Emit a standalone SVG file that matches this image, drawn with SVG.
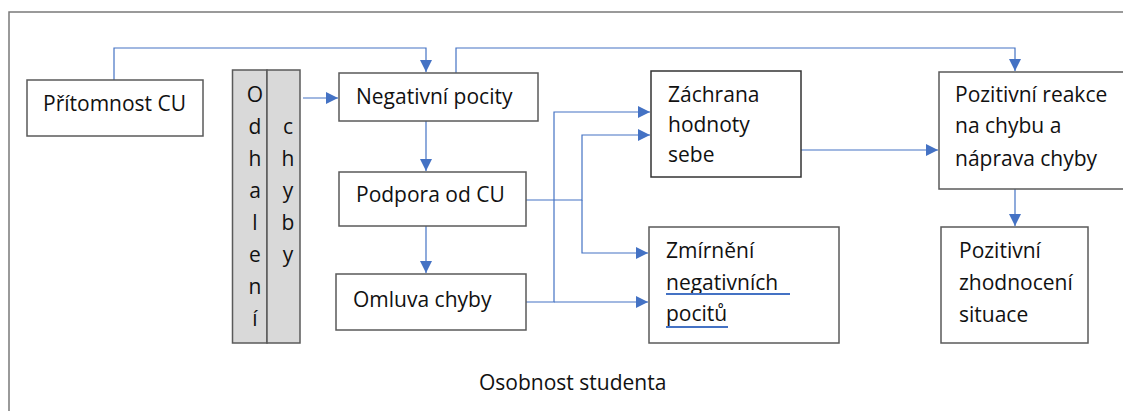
<svg xmlns="http://www.w3.org/2000/svg" width="1123" height="411" viewBox="0 0 1123 411">
<defs>
<style>
.t{font-family:"Open Sans","Liberation Sans",sans-serif;font-size:21px;fill:#111}
.box{fill:#fff;stroke:#5a5a5a;stroke-width:1.5}
.gray{fill:#d9d9d9;stroke:#5a5a5a;stroke-width:1.5}
.c{fill:none;stroke:#4472c4;stroke-width:1.2}
.m{text-anchor:middle}
.ul{stroke:#4472c4;stroke-width:2;fill:none}
</style>
<marker id="ah" markerUnits="userSpaceOnUse" markerWidth="14" markerHeight="12" refX="12" refY="6" orient="auto">
<path d="M0,0 L12,6 L0,12 Z" fill="#4472c4"/>
</marker>
</defs>
<rect x="0" y="0" width="1123" height="411" fill="#fff"/>
<path d="M9,411 V12 H1123" fill="none" stroke="#7a7a7a" stroke-width="1.5"/>
<g id="connectors">
<path class="c" marker-end="url(#ah)" d="M114,80 V48 H426 V72"/>
<path class="c" marker-end="url(#ah)" d="M303,98 H338"/>
<path class="c" marker-end="url(#ah)" d="M426,121 V171"/>
<path class="c" marker-end="url(#ah)" d="M426,226 V273"/>
<path class="c" marker-end="url(#ah)" d="M456,73 V48 H1015 V71"/>
<path class="c" marker-end="url(#ah)" d="M526,200 H582 V135 H650"/>
<path class="c" marker-end="url(#ah)" d="M582,200 V253 H648"/>
<path class="c" marker-end="url(#ah)" d="M526,302 H554 V112 H650"/>
<path class="c" marker-end="url(#ah)" d="M554,302 H648"/>
<path class="c" marker-end="url(#ah)" d="M801,150 H938"/>
<path class="c" marker-end="url(#ah)" d="M1015,189 V226"/>
</g>
<g id="pritomnost">
<rect class="box" x="27" y="80" width="176" height="56"/>
<text class="t" x="43" y="111">Přítomnost CU</text>
</g>
<g id="odhaleni">
<rect class="gray" x="232.5" y="70" width="34.5" height="273"/>
<rect class="gray" x="267" y="70" width="33" height="273"/>
<text class="t m" x="255" y="102">O</text>
<text class="t m" x="255" y="134">d</text>
<text class="t m" x="255" y="166">h</text>
<text class="t m" x="255" y="198">a</text>
<text class="t m" x="255" y="230">l</text>
<text class="t m" x="255" y="262">e</text>
<text class="t m" x="255" y="294">n</text>
<text class="t m" x="255" y="326">í</text>
<text class="t m" x="288" y="134">c</text>
<text class="t m" x="288" y="166">h</text>
<text class="t m" x="288" y="198">y</text>
<text class="t m" x="288" y="230">b</text>
<text class="t m" x="288" y="262">y</text>
</g>
<g id="negativni">
<rect class="box" x="339" y="73" width="199" height="48"/>
<text class="t" x="356" y="104">Negativní pocity</text>
</g>
<g id="podpora">
<rect class="box" x="339" y="172" width="187" height="54"/>
<text class="t" x="356" y="202">Podpora od CU</text>
</g>
<g id="omluva">
<rect class="box" x="336" y="274" width="190" height="56"/>
<text class="t" x="353" y="307">Omluva chyby</text>
</g>
<g id="zachrana">
<rect class="box" x="651" y="71" width="150" height="106" style="stroke:#333"/>
<text class="t" x="668" y="102">Záchrana</text>
<text class="t" x="668" y="132">hodnoty</text>
<text class="t" x="668" y="162">sebe</text>
</g>
<g id="zmirneni">
<rect class="box" x="649" y="227" width="190" height="116"/>
<text class="t" x="666" y="258">Zmírnění</text>
<text class="t" x="666" y="290">negativních</text>
<text class="t" x="666" y="321">pocitů</text>
<path class="ul" d="M666,294 H790 M666,327 H728"/>
</g>
<g id="pozitivni-reakce">
<rect class="box" x="939" y="72" width="200" height="117"/>
<text class="t" x="955" y="102">Pozitivní reakce</text>
<text class="t" x="955" y="133">na chybu a</text>
<text class="t" x="955" y="166">náprava chyby</text>
</g>
<g id="pozitivni-zhodnoceni">
<rect class="box" x="941" y="227" width="147" height="116"/>
<text class="t" x="959" y="258">Pozitivní</text>
<text class="t" x="959" y="290">zhodnocení</text>
<text class="t" x="959" y="322">situace</text>
</g>
<g id="osobnost">
<text class="t" x="479" y="390">Osobnost studenta</text>
</g>
</svg>
